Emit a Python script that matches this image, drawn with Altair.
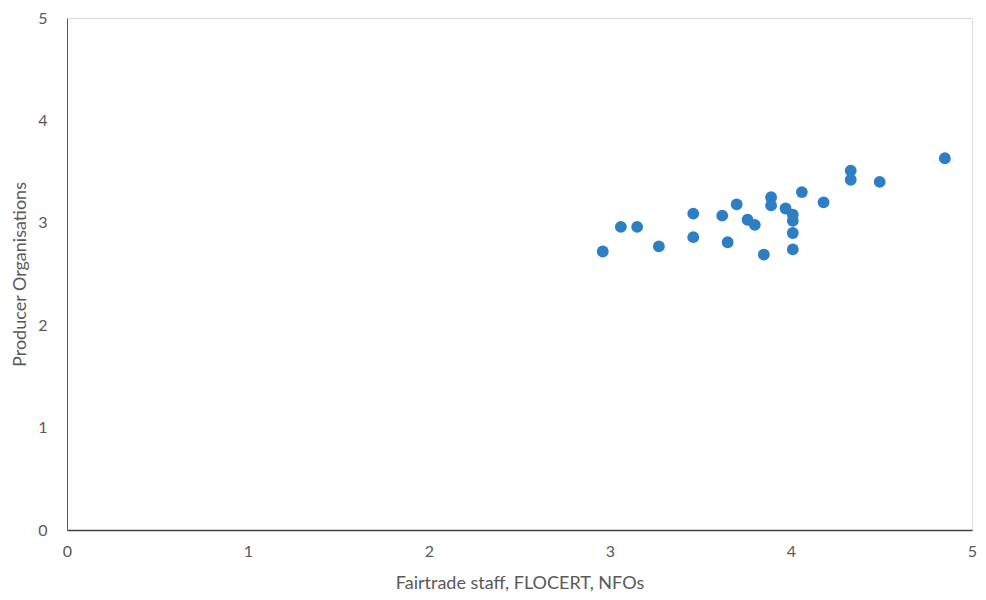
import altair as alt
import pandas as pd

fairtrade_staff = [2.96, 3.06, 3.15, 3.27, 3.46, 3.46, 3.62, 3.65, 3.70, 3.76, 3.80, 3.85,
                   3.89, 3.89, 3.97, 4.01, 4.01, 4.01, 4.01, 4.06, 4.18, 4.33, 4.33, 4.49, 4.85]
producer_orgs = [2.72, 2.96, 2.96, 2.77, 3.09, 2.86, 3.07, 2.81, 3.18, 3.03, 2.98, 2.69,
                 3.25, 3.17, 3.14, 3.08, 3.02, 2.90, 2.74, 3.30, 3.20, 3.51, 3.42, 3.40, 3.63]

df = pd.DataFrame({"x": fairtrade_staff, "y": producer_orgs})

font = "Lato"
gray = "#595959"

chart = alt.Chart(df).mark_circle(size=140, opacity=1, color="#2E7EC6").encode(
    x=alt.X("x:Q", title="Fairtrade staff, FLOCERT, NFOs",
            scale=alt.Scale(domain=[0, 5], nice=False, zero=True),
            axis=alt.Axis(values=[0, 1, 2, 3, 4, 5], format="d", grid=False, ticks=False,
                          labelFlush=False,
                          domainColor="#404040", domainWidth=1.5,
                          labelColor=gray, labelFontSize=16, labelFont=font, labelPadding=13,
                          titleColor=gray, titleFontSize=18, titleFont=font, titleFontWeight="normal",
                          titlePadding=15)),
    y=alt.Y("y:Q", title="Producer Organisations",
            scale=alt.Scale(domain=[0, 5], nice=False, zero=True),
            axis=alt.Axis(values=[0, 1, 2, 3, 4, 5], format="d", grid=False, ticks=False,
                          labelFlush=False,
                          domainColor=gray, domainWidth=1,
                          labelColor=gray, labelFontSize=16, labelFont=font, labelPadding=20,
                          titleColor=gray, titleFontSize=18, titleFont=font, titleFontWeight="normal",
                          titlePadding=8)),
).properties(
    width=905, height=512,
    autosize=alt.AutoSizeParams(type="none"),
    padding={"left": 59, "top": 10, "right": 6, "bottom": 70},
).configure_view(stroke=None).configure(background="white")

chart.save("out.html", embed_options={"renderer": "svg", "actions": False})
